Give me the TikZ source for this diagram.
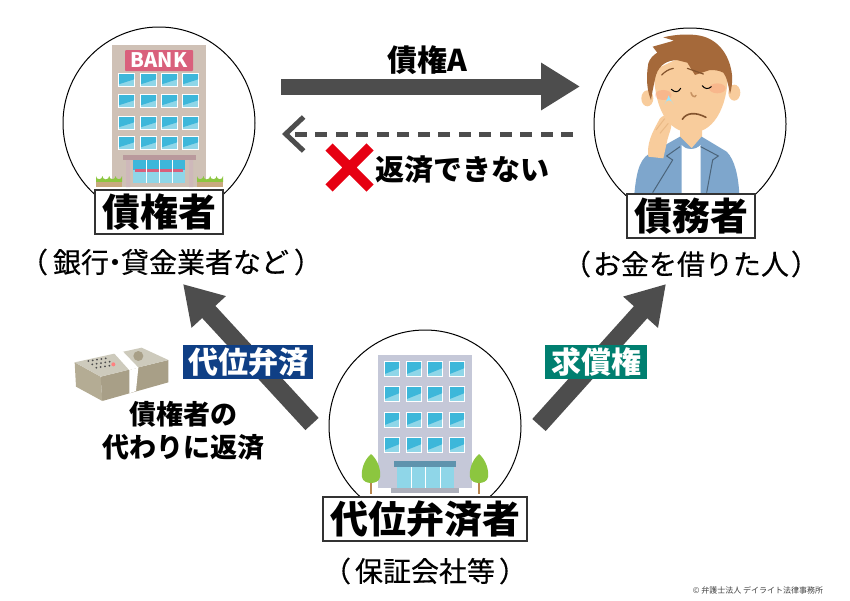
\documentclass[tikz,border=0pt]{standalone}
\usepackage{fontspec}
\usepackage{tikz}
\usetikzlibrary{arrows.meta}
\setmainfont{Noto Sans CJK JP}
\newfontfamily\medjp[FakeBold=0.35]{Noto Sans CJK JP}
\definecolor{arrowgray}{HTML}{4D4D4D}
\definecolor{banknavy}{HTML}{0F3F85}
\definecolor{bankteal}{HTML}{007F70}
\definecolor{crossred}{HTML}{E60012}
\definecolor{paneblue}{HTML}{3DB7DA}
\definecolor{panelight}{HTML}{8FD6E8}
\definecolor{skin}{HTML}{F8CC9C}
\definecolor{hair}{HTML}{A5693A}
\definecolor{jacket}{HTML}{7EA6CC}
\definecolor{leaf}{HTML}{8CC63F}
\definecolor{bankwall}{HTML}{CFC1B6}
\definecolor{banksign}{HTML}{D9607C}
\definecolor{canopy}{HTML}{B9999C}
\definecolor{planter}{HTML}{C9A97F}
\definecolor{officewall}{HTML}{C5C8D8}
\definecolor{awning}{HTML}{5F93AD}
\definecolor{officebase}{HTML}{ADB0BB}
\definecolor{trunk}{HTML}{B8864F}
\definecolor{notetop}{HTML}{CDCABC}
\definecolor{noteside}{HTML}{B4AC94}
\definecolor{noteshade}{HTML}{A89F87}
\tikzset{
  party/.style = {draw = black, fill = white, circle, line width = 1pt, minimum size = 192pt, inner sep = 0pt},
  namebox/.style = {draw = black!80, fill = white, line width = 1.3pt, minimum height = 44pt, inner sep = 0pt, font = \fontsize{38}{38}\selectfont\bfseries},
  subtext/.style = {font = \fontsize{28}{28}\selectfont\medjp, inner sep = 0pt},
  boldtext/.style = {font = \fontsize{27}{33}\selectfont\bfseries, inner sep = 0pt, align = center},
  banner/.style = {text = white, minimum height = 34pt, inner sep = 0pt, font = \fontsize{30}{30}\selectfont\bfseries},
  fatarrow/.style = {draw = arrowgray, line width = 16pt, -{Triangle[length = 39pt, width = 45pt]}},
  slantarrow/.style = {draw = arrowgray, line width = 18pt, -{Triangle[length = 38pt, width = 44pt]}}
}
\newcommand{\winpane}[4]{%
  \fill[white] (#1-1, #2-1) rectangle (#1+#3+1, #2+#4+1);
  \fill[panelight] (#1, #2) rectangle (#1+#3, #2+#4);
  \fill[paneblue] (#1, #2) -- (#1+#3, #2) -- (#1+#3, #2+#4*0.45) -- (#1, #2+#4*0.85) -- cycle;
}
\begin{document}
\begin{tikzpicture}[x = 1pt, y = -1pt]
\useasboundingbox (0, 0) rectangle (850, 600);
\node[party] (bank) at (159, 123) {};
\node[party] (debtor) at (690, 124) {};
\node[party] (guarantor) at (425, 426) {};
% bank building
\fill[bankwall] (112, 45) rectangle (206, 187);
\fill[banksign, rounded corners = 1pt] (125, 50) rectangle (193, 71);
\node[font = \fontsize{20}{20}\selectfont\bfseries, text = white, inner sep = 0pt] (banklabel) at (159, 60.5) {BANK};
\foreach \wx in {119, 141, 162, 183}
  \foreach \wy in {74, 95, 117, 137}
    \winpane{\wx}{\wy}{15}{12};
\fill[panelight] (133, 160) rectangle (185, 183);
\fill[paneblue] (133, 160) rectangle (185, 170);
\fill[banksign] (135, 169) rectangle (183, 172);
\draw[white, line width = 0.8pt] (146, 160) -- (146, 183) (159, 160) -- (159, 183) (172, 160) -- (172, 183);
\fill[canopy!70!white] (126, 160) rectangle (130, 187) (189, 160) rectangle (193, 187);
\fill[canopy] (123, 155) rectangle (196, 160);
\foreach \bx in {96, 197} {
  \fill[leaf] (\bx, 182) -- (\bx, 176) arc[start angle = 180, end angle = 0, radius = 3.2] arc[start angle = 180, end angle = 0, radius = 3.4] arc[start angle = 180, end angle = 0, radius = 3.2] arc[start angle = 180, end angle = 0, radius = 3.2] -- (\bx+26, 182) -- cycle;
  \fill[planter] (\bx, 182) rectangle (\bx+26, 187);
}
% debtor, in zoomed coordinates
\begin{scope}[shift = {(580, 20)}, scale = 0.3333]
\fill[skin] (300, 300) -- (365, 300) -- (368, 400) -- (300, 400) -- cycle;
\fill[jacket] (163, 522) .. controls (170, 450) and (180, 410) .. (220, 395) -- (300, 350) -- (335, 385) -- (365, 350) -- (440, 395) .. controls (465, 420) and (475, 470) .. (478, 522) -- cycle;
\fill[white] (305, 375) .. controls (320, 392) and (345, 392) .. (362, 375) -- (362, 522) -- (305, 522) -- cycle;
\draw[jacket!60!black, line width = 1pt] (300, 380) -- (260, 408) -- (278, 420) -- (218, 518) (362, 380) -- (415, 408) -- (398, 420) -- (380, 518);
\fill[skin] (202, 235) circle[x radius = 18, y radius = 24] (463, 218) circle[x radius = 18, y radius = 24];
\fill[skin] (222, 150) .. controls (222, 260) and (260, 338) .. (335, 338) .. controls (410, 338) and (450, 240) .. (442, 140) -- (350, 90) -- cycle;
\fill[red!45!skin, opacity = 0.22] (412, 205) circle[x radius = 25, y radius = 15] (250, 225) circle[x radius = 25, y radius = 15];
\fill[hair] (218, 80) -- (282, 62) -- (250, 52) .. controls (290, 42) and (340, 40) .. (372, 50) .. controls (420, 65) and (450, 110) .. (456, 165) .. controls (458, 185) and (455, 205) .. (450, 222) .. controls (445, 195) and (440, 170) .. (430, 158) .. controls (415, 150) and (400, 150) .. (390, 150) -- (345, 165) -- (322, 128) -- (290, 120) .. controls (265, 122) and (240, 130) .. (228, 165) .. controls (222, 190) and (217, 215) .. (213, 240) .. controls (200, 210) and (198, 170) .. (205, 130) .. controls (210, 115) and (220, 105) .. (232, 98) -- cycle;
\draw[black, line width = 1pt, line cap = round] (274, 208) .. controls (285, 218) and (295, 218) .. (302, 205) (367, 197) .. controls (375, 208) and (385, 208) .. (394, 200);
\draw[hair!80!black, line width = 1.2pt, line cap = round] (245, 165) .. controls (255, 155) and (265, 148) .. (280, 145) (322, 145) -- (370, 162);
\draw[hair!60!skin, line width = 1.5pt, line cap = round] (333, 218) .. controls (335, 228) and (345, 235) .. (348, 226);
\draw[hair!80!black, line width = 1.6pt, line cap = round] (307, 298) .. controls (320, 278) and (345, 275) .. (378, 292);
\fill[blue!25!cyan!40!white] (266, 226) .. controls (262, 240) and (254, 248) .. (254, 254) arc[start angle = 180, end angle = 360, radius = 13] .. controls (280, 248) and (270, 240) .. (266, 226) -- cycle;
\fill[skin] (205, 410) .. controls (200, 370) and (215, 340) .. (240, 295) .. controls (255, 280) and (275, 285) .. (272, 300) .. controls (280, 320) and (265, 340) .. (260, 370) -- (250, 415) -- cycle;
\draw[skin!75!brown, line width = 1pt] (228, 330) -- (254, 296) (240, 340) -- (265, 310);
\end{scope}
% guarantor building
\fill[officewall] (378, 355) rectangle (472, 488);
\foreach \wx in {385, 407, 428, 450}
  \foreach \wy in {362, 387, 413, 438}
    \winpane{\wx}{\wy}{14}{14};
\fill[panelight] (397, 467) rectangle (454, 488);
\draw[white, line width = 0.8pt] (411, 467) -- (411, 488) (425, 467) -- (425, 488) (440, 467) -- (440, 488);
\fill[awning] (394, 461) rectangle (456, 467);
\fill[officebase] (391, 488) rectangle (459, 493);
\foreach \tx in {371, 479} {
  \fill[trunk] (\tx-1, 482) rectangle (\tx+1, 494);
  \fill[leaf] (\tx, 454) .. controls (\tx+7, 460) and (\tx+10, 470) .. (\tx+9, 477) .. controls (\tx+8, 485) and (\tx-8, 485) .. (\tx-9, 477) .. controls (\tx-10, 470) and (\tx-7, 460) .. (\tx, 454) -- cycle;
}
% banknotes, in zoomed coordinates
\begin{scope}[shift = {(70, 345)}, scale = 0.3333]
\fill[noteside] (14, 52) -- (92, 95) -- (97, 168) -- (18, 125) -- cycle;
\fill[noteshade] (92, 95) -- (295, 45) -- (295, 112) -- (97, 168) -- cycle;
\fill[notetop] (14, 52) -- (215, 8) -- (295, 45) -- (92, 95) -- cycle;
\foreach \nr in {0, 1, 2}
  \foreach \nc in {0, 1, 2, 3, 4}
    \fill[black!70] (55+\nc*13+\nr*12, 48-\nc*2+\nr*10) circle[radius = 3];
\fill[red!50] (130, 58) circle[radius = 6];
\fill[noteshade] (205, 33) circle[radius = 15];
\fill[white] (132, 24) -- (158, 19) -- (205, 68) -- (178, 75) -- cycle;
\fill[white] (178, 75) -- (205, 68) -- (198, 138) -- (178, 145) -- cycle;
\end{scope}
% labels
\node[namebox, minimum width = 128pt] (bankname) at (159, 212) {債権者};
\node[namebox, minimum width = 128pt] (debtorname) at (691, 216) {債務者};
\node[namebox, minimum width = 204pt] (guarantorname) at (425, 519) {代位弁済者};
\node[subtext] (banksub) at (171, 262) {（\kern5pt 銀行\kern-8pt・\kern-8pt貸金業者など\kern5pt）};
\node[subtext] (debtorsub) at (691, 264) {（\kern2pt お金を借りた人\kern2pt）};
\node[subtext] (guarantorsub) at (425, 571) {（\kern4pt 保証会社等\kern4pt）};
% arrows
\coordinate (claimfrom) at (281, 86.5);
\coordinate (claimto) at (580, 86.5);
\coordinate (repayfrom) at (573, 134);
\coordinate (repayto) at (282, 134);
\coordinate (subrofrom) at (312, 424);
\coordinate (subroto) at (183, 284);
\coordinate (recoverfrom) at (539, 425);
\coordinate (recoverto) at (666, 284);
\draw[fatarrow] (claimfrom) -- (claimto);
\draw[arrowgray, line width = 5pt, dash pattern = on 12pt off 8.5pt, -{Straight Barb[length = 18pt, width = 34pt, line width = 5pt]}] (repayfrom) -- (repayto);
\draw[slantarrow] (subrofrom) -- (subroto);
\draw[slantarrow] (recoverfrom) -- (recoverto);
\node[boldtext, font = \fontsize{30}{30}\selectfont\bfseries] (claimtext) at (427, 60.5) {債権A};
\coordinate (crossa) at (329, 147);
\coordinate (crossb) at (370, 188);
\coordinate (crossc) at (370, 147);
\coordinate (crossd) at (329, 188);
\draw[crossred, line width = 10pt] (crossa) -- (crossb) (crossc) -- (crossd);
\node[boldtext, font = \fontsize{29}{29}\selectfont\bfseries] (repaytext) at (462, 170) {返済できない};
\node[banner, fill = banknavy, minimum width = 130pt] (subrobanner) at (248, 362) {代位弁済};
\node[banner, fill = bankteal, minimum width = 102pt] (recoverbanner) at (596, 362) {求償権};
\node[boldtext] (paytext) at (183, 431) {債権者の\\代わりに返済};
\node[font = \fontsize{8}{8}\selectfont, text = black!75, inner sep = 0pt] (credit) at (758, 590) {© 弁護士法人 デイライト法律事務所};
\end{tikzpicture}
\end{document}
